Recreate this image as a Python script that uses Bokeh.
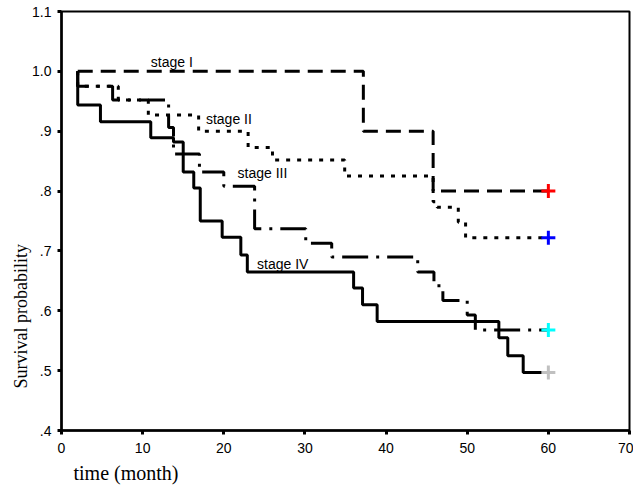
from bokeh.plotting import figure
from bokeh.models import Range1d, FixedTicker, Label, Title
from bokeh.embed import file_html
from bokeh.resources import INLINE

# ---- data ----
stage1_t = [2, 2, 37.2, 45.8, 60]
stage1_s = [1.0, 1.0, 0.90, 0.80, 0.80]

stage2_t = [2, 2, 7.0, 10.7, 16.9, 23.0, 26.0, 34.9, 45.8, 46.3, 48.9, 49.8, 60]
stage2_s = [1.0, 0.975, 0.952, 0.927, 0.90, 0.873, 0.852, 0.825, 0.782, 0.773, 0.748, 0.722, 0.722]

stage3_t = [2, 2, 6.3, 13.2, 13.8, 17.0, 20.0, 23.8, 30.1, 33.3, 43.9, 45.9, 47.0, 50.0, 51.0, 60]
stage3_s = [1.0, 0.975, 0.952, 0.906, 0.862, 0.832, 0.808, 0.737, 0.713, 0.69, 0.665, 0.642, 0.617, 0.593, 0.568, 0.568]

stage4_t = [2, 2, 4.8, 11.0, 13.8, 15.0, 16.3, 17.1, 19.8, 22.1, 22.9, 36.0, 37.1, 38.9, 53.9, 55.0, 56.9, 60]
stage4_s = [1.0, 0.944, 0.916, 0.889, 0.882, 0.832, 0.805, 0.75, 0.723, 0.693, 0.665, 0.638, 0.61, 0.582, 0.555, 0.525, 0.497, 0.497]

censor_t = [60, 60, 60, 60]
censor_s = [0.80, 0.722, 0.568, 0.497]
censor_colors = ["red", "blue", "cyan", "silver"]

stage_labels = ["stage I", "stage II", "stage III", "stage IV"]
label_x = [11.0, 17.8, 21.7, 24.1]
label_y = [1.015, 0.92, 0.83, 0.678]

x_ticks = [0, 10, 20, 30, 40, 50, 60, 70]
y_ticks = [0.4, 0.5, 0.6, 0.7, 0.8, 0.9, 1.0, 1.1]
y_tick_labels = [".4", ".5", ".6", ".7", ".8", ".9", "1.0", "1.1"]

p = figure(width=633, height=487, output_backend="svg", toolbar_location=None,
           x_range=Range1d(0, 70), y_range=Range1d(0.4, 1.1),
           min_border_left=61, min_border_right=4, min_border_top=11, min_border_bottom=55)
p.background_fill_color = "white"
p.border_fill_color = "white"
p.outline_line_color = "black"
p.outline_line_width = 2
p.xgrid.visible = False
p.ygrid.visible = False

lw = 3
p.step(stage4_t, stage4_s, mode="after", line_color="black", line_width=lw)
p.step(stage3_t, stage3_s, mode="after", line_color="black", line_width=lw, line_dash="26 8 3 8")
p.step(stage2_t, stage2_s, mode="after", line_color="black", line_width=lw, line_dash="4 7")
p.step(stage1_t, stage1_s, mode="after", line_color="black", line_width=lw, line_dash="15 8")

p.scatter(censor_t, censor_s, marker="cross", size=14, line_width=3, color=censor_colors)

for txt, lx, ly in zip(stage_labels, label_x, label_y):
    p.add_layout(Label(x=lx, y=ly, text=txt, text_font="Liberation Sans", text_font_size="14px",
                       text_align="left", text_baseline="middle", text_color="black"))

for ax in (p.xaxis[0], p.yaxis[0]):
    ax.axis_line_width = 2.5
    ax.axis_line_color = "black"
    ax.major_tick_line_width = 3
    ax.major_tick_out = 4
    ax.major_tick_in = 0
    ax.minor_tick_line_color = None
    ax.major_label_text_font = "Liberation Sans"
    ax.major_label_text_font_size = "14px"
    ax.major_label_text_color = "black"

p.xaxis.major_label_standoff = 8
p.yaxis.major_label_standoff = 6

p.xaxis.ticker = FixedTicker(ticks=x_ticks)
p.yaxis.ticker = FixedTicker(ticks=y_ticks)
p.yaxis.major_label_overrides = {t: l for t, l in zip(y_ticks, y_tick_labels)}

ytitle = Title(text="Survival probability", align="left", offset=42, standoff=-2,
               text_font="Liberation Serif", text_font_size="18px", text_font_style="normal",
               text_color="black")
p.add_layout(ytitle, "left")
xtitle = Title(text="time (month)", align="left", offset=12, standoff=8,
               text_font="Liberation Serif", text_font_size="20px", text_font_style="normal",
               text_color="black")
p.add_layout(xtitle, "below")

open("out.html", "w").write(file_html(p, INLINE))
